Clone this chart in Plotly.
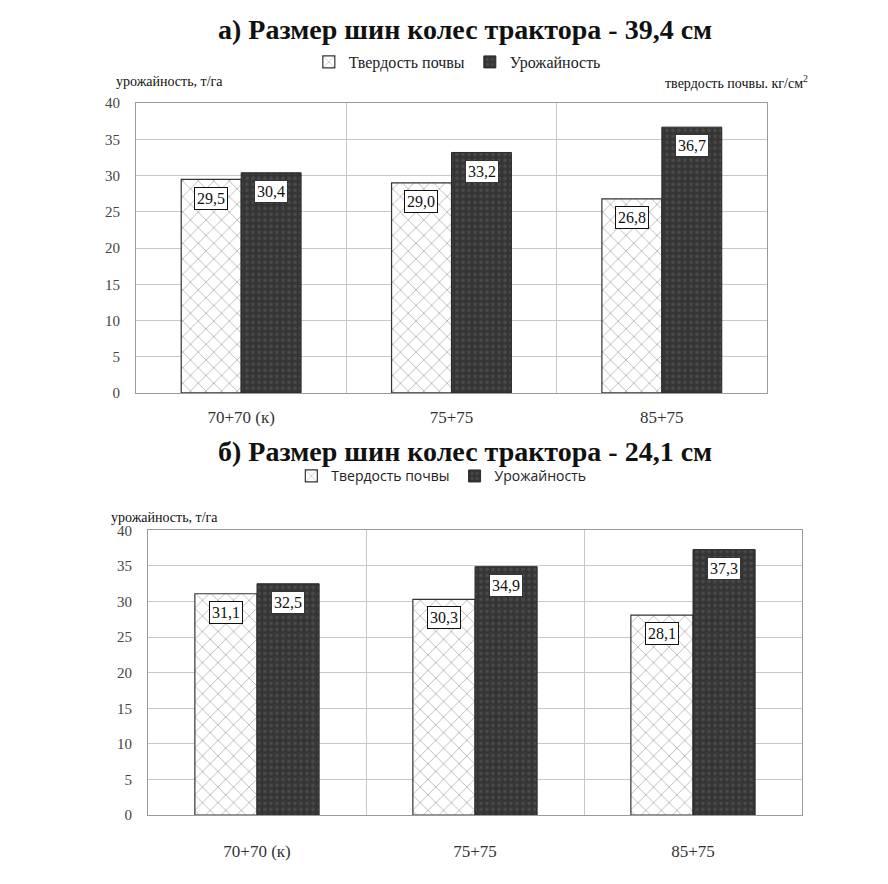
import plotly.graph_objects as go

# Tractor tyre configurations (front + rear)
categories = ["70+70 (к)", "75+75", "85+75"]
series_names = ["Твердость почвы", "Урожайность"]

# а) tyre width 39.4 cm
hardness_a = [29.5, 29.0, 26.8]
yield_a = [30.4, 33.2, 36.7]
# б) tyre width 24.1 cm
hardness_b = [31.1, 30.3, 28.1]
yield_b = [32.5, 34.9, 37.3]

y_ticks = [0, 5, 10, 15, 20, 25, 30, 35, 40]

SERIF = "Liberation Serif"
SANS = "Open Sans"
LIGHT_FG = "#6a6a6a"
DARK_BG = "#353535"


def fmt(v):
    return f"{v:.1f}".replace(".", ",")


fig = go.Figure()

panels = [
    dict(h=hardness_a, y=yield_a, xa="x", ya="y", legend="legend", off=2.6),
    dict(h=hardness_b, y=yield_b, xa="x2", ya="y2", legend="legend2", off=2.6),
]

xs = list(range(len(categories)))
for p in panels:
    fig.add_trace(go.Bar(
        x=xs, y=p["h"], name=series_names[0], xaxis=p["xa"], yaxis=p["ya"],
        legend=p["legend"],
        marker=dict(color="white", line=dict(color="#333333", width=1.2),
                    pattern=dict(shape="x", fgcolor=LIGHT_FG, bgcolor="white",
                                 size=11, solidity=0.15)),
    ))
    fig.add_trace(go.Bar(
        x=xs, y=p["y"], name=series_names[1], xaxis=p["xa"], yaxis=p["ya"],
        legend=p["legend"],
        marker=dict(color=DARK_BG, line=dict(color="#2a2a2a", width=1),
                    pattern=dict(shape=".", fgcolor="#5f5f5f", bgcolor=DARK_BG,
                                 size=6, solidity=0.3)),
    ))

# value boxes inside the tops of the bars
annotations = []
for p in panels:
    for i in range(len(categories)):
        for j, vals in enumerate([p["h"], p["y"]]):
            v = vals[i]
            annotations.append(dict(
                x=i + (-0.143 if j == 0 else 0.143), y=v - p["off"],
                xref=p["xa"], yref=p["ya"], text=fmt(v), showarrow=False,
                font=dict(family=SERIF, size=16, color="#111111"),
                bgcolor="white", bordercolor="#111111" if j == 0 else DARK_BG,
                borderwidth=1, borderpad=2,
            ))


def paper_text(x, y, text, size, family=SERIF, xanchor="center"):
    return dict(x=x / 888, y=1 - y / 884, xref="paper", yref="paper",
                xanchor=xanchor, yanchor="middle", text=text, showarrow=False,
                font=dict(family=family, size=size, color="#111111"))


# titles and axis captions
annotations += [
    paper_text(465, 22, "<b>а) Размер шин колес трактора - 39,4 см</b>", 28),
    paper_text(465, 452, "<b>б) Размер шин колес трактора - 24,1 см</b>", 28),
    paper_text(114, 75, "урожайность, т/га", 14, xanchor="left"),
    paper_text(810, 75, "твердость почвы. кг/см<sup>2</sup>", 14, xanchor="right"),
    paper_text(109, 519, "урожайность, т/га", 14, xanchor="left"),
]

axis_common = dict(
    showline=True, linecolor="#9a9a9a", linewidth=1, mirror=True,
)
x_common = dict(
    axis_common, tickvals=xs, ticktext=categories, range=[-0.5, 2.5],
    showgrid=False, zeroline=False, ticks="",
    tickfont=dict(family=SERIF, size=17, color="#333333"),
    minor=dict(tickvals=[0.5, 1.5], showgrid=True, gridcolor="#c8c8c8", gridwidth=1),
)
y_common = dict(
    axis_common, tickvals=y_ticks, range=[0, 40], showgrid=True,
    gridcolor="#c8c8c8", gridwidth=1, zeroline=False, ticks="",
    tickfont=dict(family=SERIF, size=15, color="#444444"),
    ticklabelstandoff=12,
)

fig.update_layout(
    width=888, height=884, autosize=False,
    margin=dict(l=0, r=0, t=0, b=0),
    paper_bgcolor="white", plot_bgcolor="white",
    barmode="group", bargap=0.43, bargroupgap=0,
    xaxis=dict(x_common, domain=[136 / 888, 767 / 888], anchor="y", ticklabelstandoff=9),
    yaxis=dict(y_common, domain=[1 - 392 / 884, 1 - 97 / 884], anchor="x"),
    xaxis2=dict(x_common, domain=[148 / 888, 802 / 888], anchor="y2", ticklabelstandoff=20),
    yaxis2=dict(y_common, domain=[1 - 822 / 884, 1 - 532 / 884], anchor="x2"),
    legend=dict(orientation="h", x=0.515, xanchor="center", y=1 - 55 / 884,
                yanchor="middle", font=dict(family=SERIF, size=16, color="#222222"),
                itemwidth=30, bgcolor="rgba(0,0,0,0)"),
    legend2=dict(orientation="h", x=0.497, xanchor="center", y=1 - 477 / 884,
                 yanchor="middle", font=dict(family=SANS, size=14, color="#222222"),
                 itemwidth=30, bgcolor="rgba(0,0,0,0)"),
    annotations=annotations,
)

fig.write_html("out.html")
